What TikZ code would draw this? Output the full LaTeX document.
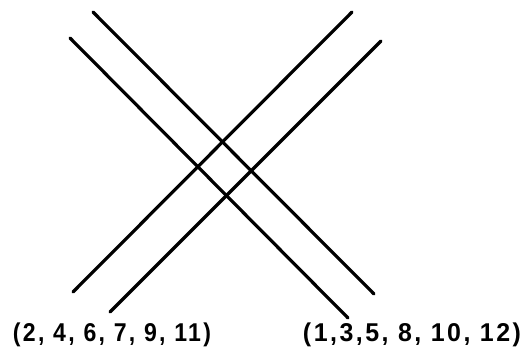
\documentclass[tikz,border=0pt]{standalone}
\usepackage{fontspec}
\setmainfont{Liberation Sans}
\newfontfamily\lblfont[LetterSpace=10]{Liberation Sans}
\begin{document}
\begin{tikzpicture}[x=1pt,y=-1pt,
  wire/.style={line width=3.2pt,line cap=round},
  lbl/.style={font=\lblfont\bfseries\fontsize{21}{24}\selectfont,inner sep=0pt,anchor=center}]
\useasboundingbox (0,0) rectangle (526,355);
% down-right lines
\coordinate (a1) at (93,12);  \coordinate (a2) at (374,294);
\coordinate (b1) at (70,38);  \coordinate (b2) at (348,318);
% up-right lines
\coordinate (c1) at (352,12); \coordinate (c2) at (73,292);
\coordinate (d1) at (381,41); \coordinate (d2) at (110,312);
\draw[wire] (a1) -- (a2);
\draw[wire] (b1) -- (b2);
\draw[wire] (c1) -- (c2);
\draw[wire] (d1) -- (d2);
\node[lbl] (left) at (112,335) {\resizebox*{198pt}{24pt}{(2, 4, 6, 7, 9, 11)}};
\node[lbl] (right) at (412,335) {\resizebox*{218pt}{24pt}{(1,3,5, 8, 10, 12)}};
\end{tikzpicture}
\end{document}
